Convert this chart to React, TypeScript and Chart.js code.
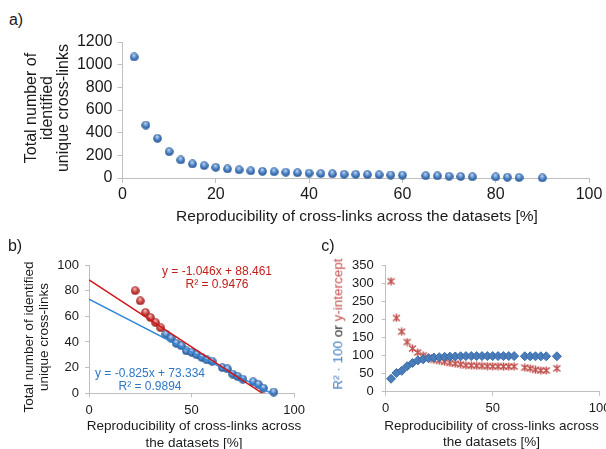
import React, { useEffect, useRef } from "react";
import { Chart, registerables } from "chart.js";

Chart.register(...registerables);

const FONT = '"Liberation Sans", Arial, sans-serif';
const TEXT = "#1a1a1a";
const AXIS = "#bfbfbf";
const BLUE_TEXT = "#2f77c5";
const RED_TEXT = "#c0201e";

// ---- Panel a: reproducibility [%] vs. number of unique cross-links
const reproA = [2.5, 5, 7.5, 10, 12.5, 15, 17.5, 20, 22.5, 25, 27.5, 30, 32.5, 35, 37.5, 40, 42.5, 45, 47.5, 50, 52.5, 55, 57.5, 60, 65, 67.5, 70, 72.5, 75, 80, 82.5, 85, 90];
const countsA = [1068, 467, 350, 232, 159, 124, 109, 94, 80, 72, 63, 59, 55, 51, 46, 43, 39, 37, 33, 32, 30, 28, 26, 25, 20, 19, 15, 13, 11, 9, 7, 4, 1];

// ---- Panel b: zoom with two linear fits
const redX = [22.5, 25, 27.5, 30, 32.5, 35];
const redY = [80, 72, 63, 59, 55, 51];
const blueX = [37.5, 40, 42.5, 45, 47.5, 50, 52.5, 55, 57.5, 60, 65, 67.5, 70, 72.5, 75, 80, 82.5, 85, 90];
const blueY = [46, 43, 39, 37, 33, 32, 30, 28, 26, 25, 20, 19, 15, 13, 11, 9, 7, 4, 1];
const redTrendX = [0, 84.6];
const redTrendY = [88.461, 0];
const blueTrendX = [0, 88.9];
const blueTrendY = [73.334, 0];
const redEq = ["y = -1.046x + 88.461", "R² = 0.9476"];
const blueEq = ["y = -0.825x + 73.334", "R² = 0.9894"];

// ---- Panel c: fit quality vs. threshold
const thresholdC = [2.5, 5, 7.5, 10, 12.5, 15, 17.5, 20, 22.5, 25, 27.5, 30, 32.5, 35, 37.5, 40, 42.5, 45, 47.5, 50, 52.5, 55, 57.5, 60, 65, 67.5, 70, 72.5, 75, 80];
const r2x100 = [36, 52, 58, 71, 80, 87, 90, 93, 94.8, 96, 97, 97.5, 98, 98.5, 98.9, 99, 99, 99, 99, 99, 99, 99, 99, 99, 98.5, 98.5, 98.5, 98.5, 98.5, 98.5];
const interceptC = [307, 205, 167, 138, 120, 109, 101, 95, 88.5, 86, 83, 80, 78, 76, 73.3, 73, 72, 71.5, 71, 70.5, 70.5, 70, 70, 70, 67, 65, 61, 59, 59, 65];

const xTitle = "Reproducibility of cross-links across the datasets [%]";
const xTitleShort = ["Reproducibility of cross-links across", "the datasets [%]"];

function pts(xs: number[], ys: number[]) {
  return xs.map((x, i) => ({ x, y: ys[i] }));
}

function makeSphere(d: number, c0: string, c1: string, c2: string) {
  const cv = document.createElement("canvas");
  cv.width = d;
  cv.height = d;
  const ctx = cv.getContext("2d")!;
  const r = d / 2;
  const g = ctx.createRadialGradient(r * 0.9, r * 0.55, r * 0.1, r, r, r);
  g.addColorStop(0, c0);
  g.addColorStop(0.55, c1);
  g.addColorStop(1, c2);
  ctx.fillStyle = g;
  ctx.beginPath();
  ctx.arc(r, r, r - 0.2, 0, Math.PI * 2);
  ctx.fill();
  return cv;
}

function makeStar(d: number, color: string) {
  const cv = document.createElement("canvas");
  cv.width = d;
  cv.height = d;
  const ctx = cv.getContext("2d")!;
  ctx.strokeStyle = color;
  ctx.lineWidth = 1.5;
  ctx.beginPath();
  ctx.moveTo(1, 1.5);
  ctx.lineTo(d - 1, d - 1.5);
  ctx.moveTo(d - 1, 1.5);
  ctx.lineTo(1, d - 1.5);
  ctx.moveTo(d / 2, 0.5);
  ctx.lineTo(d / 2, d - 0.5);
  ctx.stroke();
  return cv;
}

function axis(min: number, max: number, step: number, size: number, pad: number, fit: (s: any) => void, tl = 4) {
  return {
    type: "linear" as const,
    min,
    max,
    ticks: {
      stepSize: step,
      font: { family: FONT, size },
      color: TEXT,
      padding: pad,
      maxRotation: 0,
      autoSkip: false,
      callback: (v: any) => String(v),
    },
    grid: { drawOnChartArea: false, tickLength: tl, color: AXIS },
    border: { color: AXIS },
    afterFit: fit,
  };
}

function ChartCanvas({ left, top, width, height, make }: { left: number; top: number; width: number; height: number; make: () => any }) {
  const ref = useRef<HTMLCanvasElement>(null);
  useEffect(() => {
    const chart = new Chart(ref.current!, make());
    return () => chart.destroy();
  }, []);
  return (
    <canvas
      ref={ref}
      width={width}
      height={height}
      style={{ position: "absolute", left, top, width, height }}
    />
  );
}

function Label({ x, y, size, color = TEXT, rotate = false, lh, children }: any) {
  return (
    <div
      style={{
        position: "absolute",
        left: x,
        top: y,
        transform: `translate(-50%, -50%)${rotate ? " rotate(-90deg)" : ""}`,
        whiteSpace: "nowrap",
        fontSize: size,
        lineHeight: lh ? `${lh}px` : "1.15",
        color,
        textAlign: "center",
      }}
    >
      {children}
    </div>
  );
}

const baseOpts = (padding: any, scales: any) => ({
  animation: false,
  responsive: false,
  layout: { padding },
  plugins: { legend: { display: false }, tooltip: { enabled: false } },
  scales,
});

export default function App() {
  const makeA = () => {
    const sphere = makeSphere(9, "#b4d0f2", "#4a7fc1", "#1f4e8c");
    return {
      type: "scatter",
      data: {
        datasets: [
          { data: pts(reproA, countsA), pointStyle: sphere, pointRadius: 4.5, clip: false },
        ],
      },
      options: baseOpts(
        { left: 0, right: 17, top: 22, bottom: 0 },
        {
          x: axis(0, 100, 20, 16, 2, (s: any) => { s.height = 42; }, 5),
          y: axis(0, 1200, 200, 16, 5, (s: any) => { s.width = 62.5; }, 5),
        }
      ),
    };
  };

  const makeB = () => {
    const blue = makeSphere(9, "#b4d0f2", "#4a7fc1", "#1f4e8c");
    const red = makeSphere(9, "#f2b0ae", "#c8423e", "#8a1f1c");
    return {
      type: "scatter",
      data: {
        datasets: [
          { data: pts(redTrendX, redTrendY), showLine: true, pointRadius: 0, borderColor: "#d0151b", borderWidth: 1.5 },
          { data: pts(blueTrendX, blueTrendY), showLine: true, pointRadius: 0, borderColor: "#2f86d6", borderWidth: 1.5 },
          { data: pts(redX, redY), pointStyle: red, pointRadius: 4.5, clip: false },
          { data: pts(blueX, blueY), pointStyle: blue, pointRadius: 4.5, clip: false },
        ],
      },
      options: baseOpts(
        { left: 0, right: 12.3, top: 15, bottom: 0 },
        {
          x: axis(0, 100, 50, 13, 5, (s: any) => { s.height = 55.7; }),
          y: axis(0, 100, 20, 13, 6, (s: any) => { s.width = 89; }),
        }
      ),
    };
  };

  const makeC = () => {
    const star = makeStar(9, "#c0504d");
    return {
      type: "scatter",
      data: {
        datasets: [
          { data: pts(thresholdC, r2x100), pointStyle: "rectRot", pointRadius: 4.5, backgroundColor: "#4a7ebb", borderColor: "#3a6aa6", borderWidth: 1, clip: false },
          { data: pts(thresholdC, interceptC), pointStyle: star, pointRadius: 4.5, clip: false },
        ],
      },
      options: baseOpts(
        { left: 0, right: 20.3, top: 12.7, bottom: 0 },
        {
          x: axis(0, 100, 50, 13, 5, (s: any) => { s.height = 57.3; }),
          y: axis(0, 350, 50, 13, 8, (s: any) => { s.width = 75.7; }),
        }
      ),
    };
  };

  return (
    <div
      style={{
        position: "absolute",
        left: 0,
        top: 0,
        width: 606,
        height: 449,
        overflow: "hidden",
        background: "#fff",
        fontFamily: FONT,
        color: TEXT,
      }}
    >
      <ChartCanvas left={60} top={20} width={546} height={200} make={makeA} />
      <ChartCanvas left={0} top={250} width={310} height={199} make={makeB} />
      <ChartCanvas left={310} top={250} width={310} height={199} make={makeC} />

      <Label x={16} y={20} size={16}>a)</Label>
      <Label x={47} y={108} size={16} rotate lh={16}>
        Total number of<br />identified<br />unique cross-links
      </Label>
      <Label x={357} y={216} size={15.5}>{xTitle}</Label>

      <Label x={15} y={246} size={16}>b)</Label>
      <Label x={35.8} y={337} size={13.5} rotate lh={15}>
        Total number of identified<br />unique cross-links
      </Label>
      <Label x={194} y={435} size={13.5} lh={16.6}>
        {xTitleShort[0]}<br />{xTitleShort[1]}
      </Label>
      <Label x={217} y={278} size={12} color={RED_TEXT} lh={12.7}>
        {redEq[0]}<br />{redEq[1]}
      </Label>
      <Label x={150} y={379.5} size={12} color={BLUE_TEXT} lh={13}>
        {blueEq[0]}<br />{blueEq[1]}
      </Label>

      <Label x={328} y={246} size={16}>c)</Label>
      <Label x={338} y={324} size={13.5} rotate>
        <span style={{ color: "#3b78be" }}>R² · 100</span> or{" "}
        <span style={{ color: "#c0504d" }}>y-intercept</span>
      </Label>
      <Label x={491.5} y={434.5} size={13.5} lh={16.6}>
        {xTitleShort[0]}<br />{xTitleShort[1]}
      </Label>
    </div>
  );
}
